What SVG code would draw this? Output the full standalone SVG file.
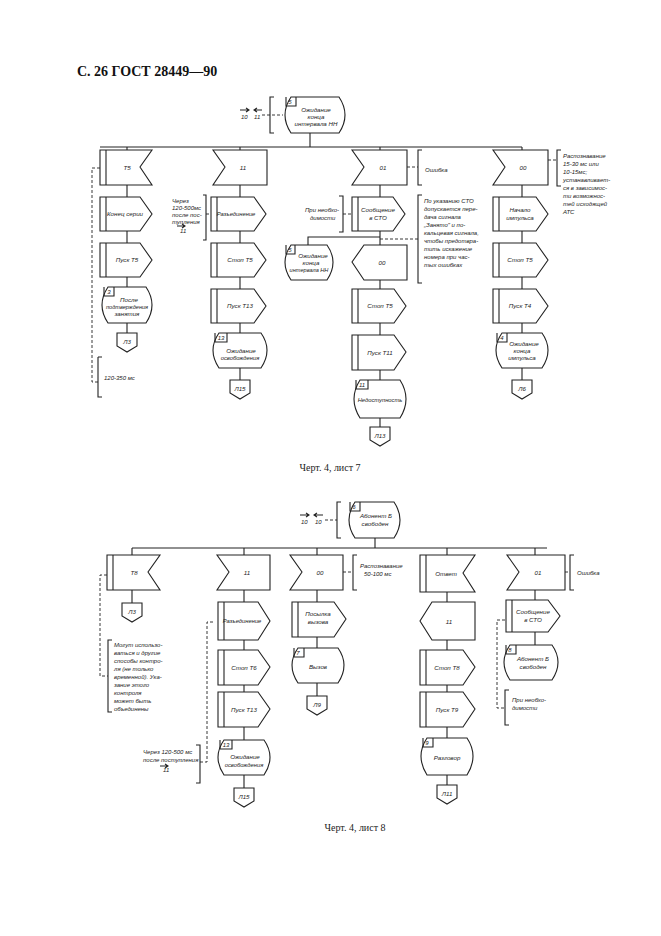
<svg xmlns="http://www.w3.org/2000/svg" width="661" height="936" viewBox="0 0 661 936">
<style>
.s{fill:none;stroke:#222;stroke-width:1.1}
.d{fill:none;stroke:#222;stroke-width:0.9;stroke-dasharray:3,2}
.t{font-family:"Liberation Sans",Arial,sans-serif;font-style:italic;font-size:6.2px;fill:#222;text-anchor:middle}
.a{font-family:"Liberation Sans",Arial,sans-serif;font-style:italic;font-size:6px;fill:#222}
.h{font-family:"Liberation Serif",serif;font-weight:bold;font-size:14px;fill:#111}
.c{font-family:"Liberation Serif",serif;font-size:10px;fill:#222;text-anchor:middle}
</style>
<rect width="661" height="936" fill="#fff"/>
<text class="h" x="77" y="76">С. 26 ГОСТ 28449—90</text>
<g id="connectors">
<path class="s" d="M100,147H522M310,133V147M127,147V150M240,147V150M380,147V150M522,147V150"/>
<path class="s" d="M127,185V197M127,231V243M127,277V287M127,323V333M240,185V197M240,231V243M240,277V289M240,323V333M240,368V380M380,185V197M380,231V245M380,280V289M380,323V335M380,370V380M380,418V427M522,185V197M522,231V243M522,277V289M522,323V333M522,368V380"/>
<path class="s" d="M380,237H308V245"/>
<path class="d" d="M262,115H283M100,168H92V382H98M206,214H210M407,167H418M343,214H352M380,239H418M548,160H557"/>
<path class="s" d="M274,97H270V133H274M98,357H102M98,357V397H102M203,195H206V240H203M422,150H418V185H422M339,196H343V232H339M422,195H418V283H422M561,150H557V186H561"/>
<path class="s" d="M132,548H547M375,538V548M132,548V555M244,548V555M317,548V555M447,548V555M535,548V555"/>
<path class="s" d="M132,590V603M244,590V602M244,640V650M244,685V692M244,727V740M244,775V788M317,590V602M317,637V648M317,683V696M447,592V602M447,640V650M447,685V692M447,727V738M447,775V785M535,590V600M535,632V645"/>
<path class="d" d="M325,520H337M107,575H100V676H108M213,622H207V762H200M343,572H353M565,572H570M505,620H497V708H505"/>
<path class="s" d="M341,502H337V538H341M112,640H108V712H112M196,745H200V783H196M357,555H353V590H357M574,555H570V590H574M509,690H505V725H509"/>
</g>
<text class="c" x="330" y="471">Черт. 4, лист 7</text>
<text class="c" x="355" y="831">Черт. 4, лист 8</text>
<g id="ann-top" class="a">
<text x="241" y="119">10</text><text x="254" y="119">11</text>
<path class="s" d="M240,110H249M246,108L249,110L246,112M254,110H262M257,108L254,110L257,112"/>
<text x="104" y="380">120-350 мс</text>
<text x="172" y="203">Через</text><text x="172" y="210">120-500мс</text><text x="172" y="217">после пос-</text><text x="172" y="224">тупления</text><text x="180" y="233">11</text>
<path class="s" d="M177,226H185M182,224L185,226L182,228"/>
<text x="425" y="172">Ошибка</text>
<text x="305" y="212">При необхо-</text><text x="310" y="220">димости</text>
<text x="424" y="203">По указанию СТО</text><text x="424" y="211">допускается пере-</text><text x="424" y="219">дача сигнала</text><text x="424" y="227">„Занято" и по-</text><text x="424" y="235">кальцевая сигнала,</text><text x="424" y="243">чтобы предотвра-</text><text x="424" y="251">тить искажение</text><text x="424" y="259">номера при час-</text><text x="424" y="267">тых ошибках</text>
<text x="563" y="158">Распознавание</text><text x="563" y="166">15-30 мс или</text><text x="563" y="174">10-15мс;</text><text x="563" y="182">устанавливает-</text><text x="563" y="190">ся в зависимос-</text><text x="563" y="198">ти возможнос-</text><text x="563" y="206">тей исходящей</text><text x="563" y="214">АТС</text>
</g>
<g id="n5"><path class="s" d="M291,97H339Q351,115 339,133H291Q279,115 291,97Z"/><path class="s" d="M286,97V106H296V97"/><text class="t" x="290" y="104" style="font-size:6px">5</text><text class="t" x="316" y="112">Ожидание</text><text class="t" x="316" y="119">конца</text><text class="t" x="316" y="126">интервала НН</text></g>
<g id="c1-T5"><path class="s" d="M100,150H152L140,167L152,185H100Z"/><path class="s" d="M106,150V185"/><text class="t" x="127" y="170">T5</text></g>
<g id="c1-end"><path class="s" d="M100,197H140L152,214L140,231H100Z"/><path class="s" d="M106,197V231"/><text class="t" x="125" y="216">Конец серии</text></g>
<g id="c1-start"><path class="s" d="M100,243H140L152,260L140,277H100Z"/><path class="s" d="M106,243V277"/><text class="t" x="127" y="262">Пуск T5</text></g>
<g id="c1-s3"><path class="s" d="M108,287H146Q158,305 146,323H108Q96,305 108,287Z"/><path class="s" d="M104,287V296H114V287"/><text class="t" x="109" y="294" style="font-size:6px">3</text><text class="t" x="129" y="302">После</text><text class="t" x="127" y="309" style="font-size:5.6px">подтверждения</text><text class="t" x="127" y="316">занятия</text></g>
<g id="c1-L"><path class="s" d="M117,333H137V346L127,352L117,346Z"/><text class="t" x="127" y="344">Л3</text></g>
<g id="c2-11"><path class="s" d="M213,150H267V185H213L225,167Z"/><text class="t" x="243" y="170">11</text></g>
<g id="c2-raz"><path class="s" d="M211,197H254L266,214L254,231H211Z"/><path class="s" d="M217,197V231"/><text class="t" x="236" y="216" style="font-size:5.8px">Разъединение</text></g>
<g id="c2-stop"><path class="s" d="M211,243H254L266,260L254,277H211Z"/><path class="s" d="M217,243V277"/><text class="t" x="240" y="262">Стоп T5</text></g>
<g id="c2-pusk"><path class="s" d="M211,289H254L266,306L254,323H211Z"/><path class="s" d="M217,289V323"/><text class="t" x="240" y="308">Пуск T13</text></g>
<g id="c2-s13"><path class="s" d="M219,333H261Q273,350 261,368H219Q207,350 219,333Z"/><path class="s" d="M215,333V342H227V333"/><text class="t" x="221" y="340" style="font-size:6px">13</text><text class="t" x="241" y="353">Ожидание</text><text class="t" x="240" y="360" style="font-size:5.8px">освобождения</text></g>
<g id="c2-L"><path class="s" d="M230,380H250V393L240,399L230,393Z"/><text class="t" x="240" y="391">Л15</text></g>
<g id="c3-01"><path class="s" d="M352,150H407V185H352L364,167Z"/><text class="t" x="383" y="170">01</text></g>
<g id="c3-msg"><path class="s" d="M352,197H393L405,214L393,231H352Z"/><path class="s" d="M358,197V231"/><text class="t" x="378" y="212">Сообщение</text><text class="t" x="378" y="220">в СТО</text></g>
<g id="c3-s5"><path class="s" d="M291,245H327Q339,262 327,280H291Q279,262 291,245Z"/><path class="s" d="M286,245V254H295V245"/><text class="t" x="290" y="252" style="font-size:6px">5</text><text class="t" x="313" y="258">Ожидание</text><text class="t" x="311" y="265">конца</text><text class="t" x="309" y="272" style="font-size:5.6px">интервала НН</text></g>
<g id="c3-00"><path class="s" d="M364,245H407V280H364L352,262Z"/><text class="t" x="382" y="265">00</text></g>
<g id="c3-stop"><path class="s" d="M352,289H394L406,306L394,323H352Z"/><path class="s" d="M358,289V323"/><text class="t" x="380" y="308">Стоп T5</text></g>
<g id="c3-pusk"><path class="s" d="M352,335H394L406,352L394,370H352Z"/><path class="s" d="M358,335V370"/><text class="t" x="380" y="355">Пуск T11</text></g>
<g id="c3-s11"><path class="s" d="M360,380H400Q412,399 400,418H360Q348,399 360,380Z"/><path class="s" d="M356,380V389H368V380"/><text class="t" x="362" y="387" style="font-size:6px">11</text><text class="t" x="380" y="402" style="font-size:5.8px">Недоступность</text></g>
<g id="c3-L"><path class="s" d="M370,427H390V440L380,446L370,440Z"/><text class="t" x="380" y="438">Л13</text></g>
<g id="c4-00"><path class="s" d="M493,150H548V185H493L505,167Z"/><text class="t" x="523" y="170">00</text></g>
<g id="c4-nach"><path class="s" d="M493,197H536L548,214L536,231H493Z"/><path class="s" d="M499,197V231"/><text class="t" x="520" y="212">Начало</text><text class="t" x="520" y="220">импульса</text></g>
<g id="c4-stop"><path class="s" d="M493,243H536L548,260L536,277H493Z"/><path class="s" d="M499,243V277"/><text class="t" x="520" y="262">Стоп T5</text></g>
<g id="c4-pusk"><path class="s" d="M493,289H536L548,306L536,323H493Z"/><path class="s" d="M499,289V323"/><text class="t" x="520" y="308">Пуск T4</text></g>
<g id="c4-s4"><path class="s" d="M502,333H542Q554,350 542,368H502Q490,350 502,333Z"/><path class="s" d="M497,333V342H507V333"/><text class="t" x="502" y="340" style="font-size:6px">4</text><text class="t" x="524" y="346">Ожидание</text><text class="t" x="522" y="353">конца</text><text class="t" x="522" y="360">импульса</text></g>
<g id="c4-L"><path class="s" d="M512,380H532V393L522,399L512,393Z"/><text class="t" x="522" y="391">Л6</text></g>
<g id="ann-bot" class="a">
<text x="301" y="524">10</text><text x="315" y="524">10</text>
<path class="s" d="M300,515H309M306,513L309,515L306,517M314,515H323M317,513L314,515L317,517"/>
<text x="114" y="647">Могут использо-</text><text x="114" y="655">ваться и другие</text><text x="114" y="663">способы контро-</text><text x="114" y="671">ля (не только</text><text x="114" y="679">временной). Ука-</text><text x="114" y="687">зание этого</text><text x="114" y="695">контроля</text><text x="114" y="703">может быть</text><text x="114" y="711">объединены</text>
<text x="143" y="754">Через 120-500 мс</text><text x="143" y="762">после поступления</text><text x="163" y="772">11</text>
<path class="s" d="M160,766H168M165,764L168,766L165,768"/>
<text x="360" y="568">Распознавание</text><text x="364" y="576">50-100 мс</text>
<text x="577" y="575">Ошибка</text>
<text x="512" y="702">При необхо-</text><text x="512" y="710">димости</text>
</g>
<g id="n6"><path class="s" d="M355,502H394Q406,520 394,538H355Q343,520 355,502Z"/><path class="s" d="M350,502V511H360V502"/><text class="t" x="354" y="509" style="font-size:6px">6</text><text class="t" x="376" y="518">Абонент Б</text><text class="t" x="375" y="526">свободен</text></g>
<g id="b1-T8"><path class="s" d="M107,555H160L148,572L160,590H107Z"/><path class="s" d="M113,555V590"/><text class="t" x="134" y="575">T8</text></g>
<g id="b1-L"><path class="s" d="M122,603H142V616L132,622L122,616Z"/><text class="t" x="132" y="614">Л3</text></g>
<g id="b2-11"><path class="s" d="M217,555H270V590H217L229,572Z"/><text class="t" x="247" y="575">11</text></g>
<g id="b2-raz"><path class="s" d="M218,602H258L270,621L258,640H218Z"/><path class="s" d="M224,602V640"/><text class="t" x="242" y="623" style="font-size:5.8px">Разъединение</text></g>
<g id="b2-stop"><path class="s" d="M218,650H258L270,667L258,685H218Z"/><path class="s" d="M224,650V685"/><text class="t" x="244" y="670">Стоп T6</text></g>
<g id="b2-pusk"><path class="s" d="M218,692H258L270,709L258,727H218Z"/><path class="s" d="M224,692V727"/><text class="t" x="244" y="712">Пуск T13</text></g>
<g id="b2-s13"><path class="s" d="M224,740H264Q276,757 264,775H224Q212,757 224,740Z"/><path class="s" d="M220,740V749H232V740"/><text class="t" x="226" y="747" style="font-size:6px">13</text><text class="t" x="245" y="759">Ожидание</text><text class="t" x="244" y="767" style="font-size:5.8px">освобождения</text></g>
<g id="b2-L"><path class="s" d="M234,788H254V801L244,807L234,801Z"/><text class="t" x="244" y="799">Л15</text></g>
<g id="b3-00"><path class="s" d="M290,555H343V590H290L302,572Z"/><text class="t" x="320" y="575">00</text></g>
<g id="b3-pos"><path class="s" d="M292,602H334L346,619L334,637H292Z"/><path class="s" d="M298,602V637"/><text class="t" x="318" y="616">Посылка</text><text class="t" x="318" y="624">вызова</text></g>
<g id="b3-s7"><path class="s" d="M298,648H338Q350,665 338,683H298Q286,665 298,648Z"/><path class="s" d="M294,648V657H304V648"/><text class="t" x="298" y="655" style="font-size:6px">7</text><text class="t" x="318" y="669">Вызов</text></g>
<g id="b3-L"><path class="s" d="M307,696H327V709L317,715L307,709Z"/><text class="t" x="317" y="707">Л9</text></g>
<g id="b4-otv"><path class="s" d="M420,555H475L463,573L475,592H420Z"/><path class="s" d="M426,555V592"/><text class="t" x="446" y="576">Ответ</text></g>
<g id="b4-11"><path class="s" d="M432,602H475V640H432L420,621Z"/><text class="t" x="449" y="624">11</text></g>
<g id="b4-stop"><path class="s" d="M420,650H463L475,667L463,685H420Z"/><path class="s" d="M426,650V685"/><text class="t" x="447" y="670">Стоп T8</text></g>
<g id="b4-pusk"><path class="s" d="M420,692H463L475,709L463,727H420Z"/><path class="s" d="M426,692V727"/><text class="t" x="447" y="712">Пуск T9</text></g>
<g id="b4-s9"><path class="s" d="M427,738H467Q479,756 467,775H427Q415,756 427,738Z"/><path class="s" d="M423,738V747H433V738"/><text class="t" x="427" y="745" style="font-size:6px">9</text><text class="t" x="447" y="760">Разговор</text></g>
<g id="b4-L"><path class="s" d="M437,785H457V798L447,804L437,798Z"/><text class="t" x="447" y="796">Л11</text></g>
<g id="b5-01"><path class="s" d="M507,555H565V590H507L519,572Z"/><text class="t" x="538" y="575">01</text></g>
<g id="b5-msg"><path class="s" d="M506,600H548L560,616L548,632H506Z"/><path class="s" d="M512,600V632"/><text class="t" x="533" y="614">Сообщение</text><text class="t" x="533" y="622">в СТО</text></g>
<g id="b5-s8"><path class="s" d="M510,645H552Q564,662 552,680H510Q498,662 510,645Z"/><path class="s" d="M506,645V654H516V645"/><text class="t" x="510" y="652" style="font-size:6px">8</text><text class="t" x="533" y="661">Абонент Б</text><text class="t" x="533" y="669">свободен</text></g>
</svg>
